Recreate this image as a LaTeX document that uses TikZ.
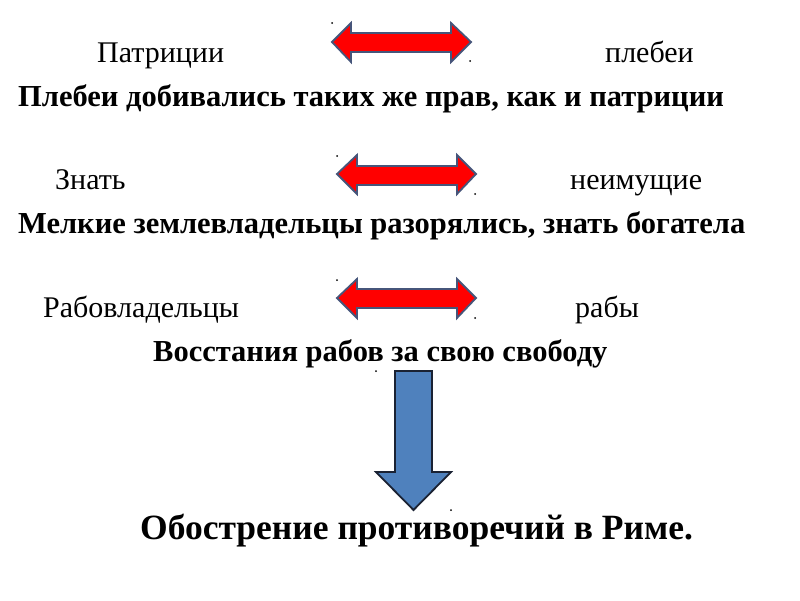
\documentclass[tikz,border=0pt]{standalone}
\usepackage{fontspec}
\setmainfont{Liberation Serif}
\begin{document}
\begin{tikzpicture}[x=1pt,y=-1pt,
  reg/.style={font=\fontsize{30}{32}\selectfont, anchor=base west, inner sep=0pt},
  bld/.style={font=\fontsize{30.5}{32}\selectfont\bfseries, anchor=base west, inner sep=0pt},
  big/.style={font=\fontsize{35.5}{38}\selectfont\bfseries, anchor=base west, inner sep=0pt},
  redarrow/.style={fill=red, draw=arrowline, line width=1.8pt, line join=miter},
  bluearrow/.style={fill=arrowblue, draw=darkline, line width=1.8pt, line join=miter},
  speck/.style={fill=black, draw=none}
]
\definecolor{arrowline}{HTML}{46557A}
\definecolor{arrowblue}{HTML}{4F81BD}
\definecolor{darkline}{HTML}{1A2233}
\useasboundingbox[fill=white] (0,0) rectangle (800,600);

% texts
\node[reg] (patr) at (97,62) {Патриции};
\node[reg] (pleb) at (605,62) {плебеи};
\node[bld] (l1) at (18,106) {Плебеи добивались таких же прав, как и патриции};
\node[reg] (znat) at (55,189) {Знать};
\node[reg] (neim) at (570,189) {неимущие};
\node[bld] (l2) at (18,233) {Мелкие землевладельцы разорялись, знать богатела};
\node[reg] (rabovl) at (43,317) {Рабовладельцы};
\node[reg] (raby) at (575,317) {рабы};
\node[bld] (l3) at (153,361) {Восстания рабов за свою свободу};
\node[big] (fin) at (140,539) {Обострение противоречий в Риме.};

% double arrows
\draw[redarrow] (332,42) -- (351,23) -- (351,33) -- (451,33) -- (451,23) -- (471,42)
  -- (451,62) -- (451,52) -- (351,52) -- (351,62) -- cycle;
\draw[redarrow] (337,174) -- (357,155) -- (357,166) -- (457,166) -- (457,155) -- (476,174)
  -- (457,194) -- (457,185) -- (357,185) -- (357,194) -- cycle;
\draw[redarrow] (337,298) -- (357,279) -- (357,289) -- (457,289) -- (457,279) -- (476,298)
  -- (457,318) -- (457,308) -- (357,308) -- (357,318) -- cycle;

% down arrow
\draw[bluearrow] (395,371) -- (432,371) -- (432,472) -- (451,472) -- (413.5,510)
  -- (376,472) -- (395,472) -- cycle;

% specks
\foreach \p in {(332,23),(470,61),(337,156),(475,194),(337,280),(475,318),(376,371),(451,510)}
  \fill[speck] \p circle (1pt);
\end{tikzpicture}
\end{document}
